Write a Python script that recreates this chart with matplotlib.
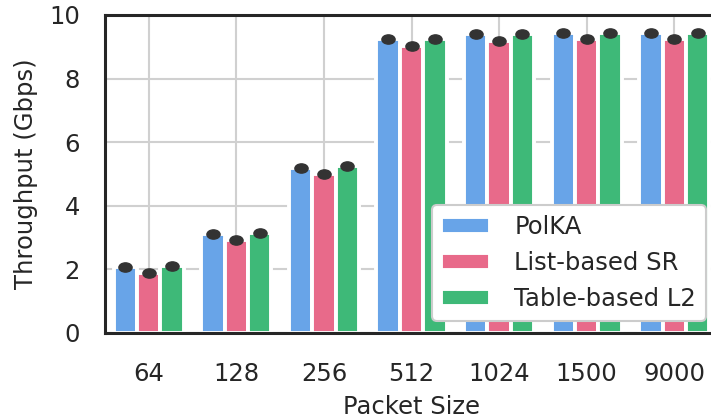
import numpy as np
import matplotlib
matplotlib.use("Agg")
import matplotlib.pyplot as plt
from matplotlib.path import Path
from matplotlib.transforms import Affine2D

categories = ["64", "128", "256", "512", "1024", "1500", "9000"]
series_names = ["PolKA", "List-based SR", "Table-based L2"]
polka = [2.08, 3.10, 5.18, 9.24, 9.39, 9.43, 9.43]
list_sr = [1.88, 2.92, 4.99, 9.04, 9.18, 9.24, 9.24]
table_l2 = [2.12, 3.15, 5.26, 9.24, 9.39, 9.43, 9.43]
yticks = [0, 2, 4, 6, 8, 10]
colors = ["#68A4E8", "#E86A8A", "#3EB978"]

FS = 17.5
plt.rcParams['font.family'] = ['DejaVu Sans']
fig = plt.figure(figsize=(7.11, 4.18), dpi=100)
ax = fig.add_axes([105/711, 85/418, (718-105)/711, (333-15)/418])

x = np.arange(len(categories))
w = 0.8 / 3
ell = Path.unit_circle().transformed(Affine2D().scale(1.0, 0.7))
for i, (name, vals, c) in enumerate(zip(series_names, [polka, list_sr, table_l2], colors)):
    pos = x + (i - 1) * w
    ax.bar(pos, vals, width=w, color=c, edgecolor="white", linewidth=2.8, label=name, zorder=2)
    ax.plot(pos, vals, linestyle="none", marker=ell, markersize=9.5, color="#333333", zorder=3)

ax.set_xlim(-0.5, len(categories) - 0.5)
ax.set_ylim(0, 10)
ax.set_xticks(x)
ax.set_xticklabels(categories)
ax.set_yticks(yticks)
ax.grid(True, color="#d0d0d0", linewidth=1.5, zorder=0)
ax.set_axisbelow(True)
for s in ax.spines.values():
    s.set_color("#262626")
    s.set_linewidth(2.2)
ax.tick_params(axis="both", length=0, labelsize=FS, colors="#262626")
ax.tick_params(axis="x", pad=21)
ax.tick_params(axis="y", pad=18)
ax.set_xlabel("Packet Size", fontsize=FS, color="#262626", labelpad=6)
ax.set_ylabel("Throughput (Gbps)", fontsize=FS, color="#262626", labelpad=8)

leg = ax.legend(loc="lower right", fontsize=FS, frameon=True, fancybox=True,
                framealpha=1.0, edgecolor="#cccccc", handletextpad=1.0)
leg.get_frame().set_linewidth(1.5)
for t in leg.get_texts():
    t.set_color("#262626")

fig.savefig("out.png", dpi=100)
